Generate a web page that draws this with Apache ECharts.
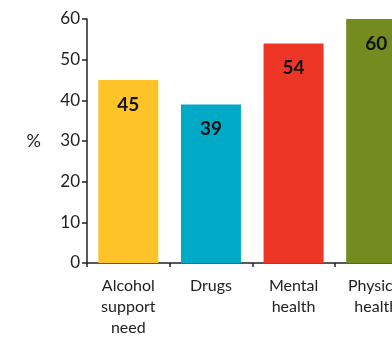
<!DOCTYPE html>
<html><head><meta charset="utf-8">
<script src="https://cdn.jsdelivr.net/npm/echarts@6/dist/echarts.min.js"></script>
<style>html,body{margin:0;padding:0;background:#fff;overflow:hidden;width:392px;height:338px}#c{width:418px;height:338px}</style>
</head><body><div id="c"></div>
<script>
var categories = ['Alcohol\nsupport\nneed', 'Drugs', 'Mental\nhealth', 'Physical\nhealth'];
var values = [45, 39, 54, 60];
var colors = ['#FEC328', '#00A9C6', '#EE3626', '#748B1F'];
var yTicks = [0, 10, 20, 30, 40, 50, 60];

var font = 'Lato, "Open Sans", sans-serif';
var chart = echarts.init(document.getElementById('c'), null, {renderer: 'canvas'});
chart.setOption({
  animation: false,
  grid: {left: 87, right: 0.5, top: 19, bottom: 74, containLabel: false},
  xAxis: {
    type: 'category', data: categories,
    axisLine: {lineStyle: {color: '#222', width: 1.5}},
    axisTick: {show: true, length: 4, lineStyle: {color: '#222', width: 1.5}},
    axisLabel: {color: '#222', fontSize: 16, fontFamily: font, lineHeight: 21, margin: 12, interval: 0}
  },
  yAxis: {
    type: 'value', min: 0, max: 60, interval: 10,
    name: '%', nameLocation: 'middle', nameRotate: 0, nameGap: 46,
    nameTextStyle: {color: '#222', fontSize: 18, fontFamily: font},
    axisLine: {show: true, lineStyle: {color: '#222', width: 1.5}},
    axisTick: {show: true, length: 5, lineStyle: {color: '#222', width: 1.5}},
    axisLabel: {color: '#222', fontSize: 17, fontFamily: font, margin: 7,
      formatter: function (v) { return yTicks.indexOf(v) >= 0 ? String(v) : ''; }},
    splitLine: {show: false}
  },
  series: [{
    type: 'bar', barWidth: 60,
    data: values.map(function (v, i) { return {value: v, itemStyle: {color: colors[i]}}; }),
    label: {show: true, position: 'insideTop', distance: 15, color: '#111',
      fontSize: 19, fontWeight: 'bold', fontFamily: font}
  }]
});
</script></body></html>
